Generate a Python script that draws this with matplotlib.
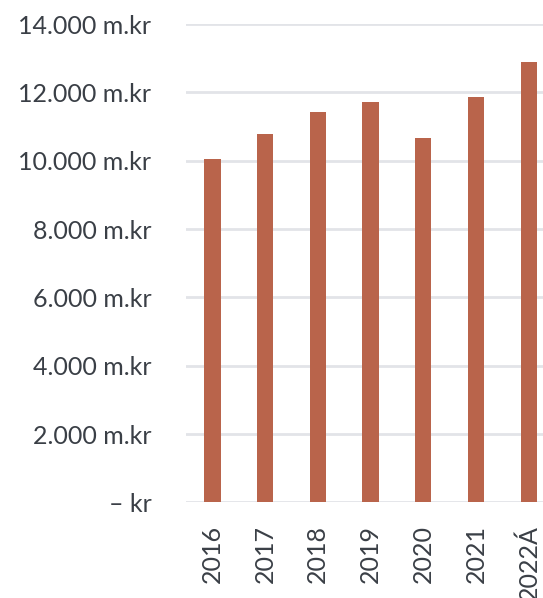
import matplotlib
matplotlib.use('Agg')
import matplotlib.pyplot as plt
from matplotlib.ticker import FuncFormatter

# Data (m.kr)
years = ['2016', '2017', '2018', '2019', '2020', '2021', '2022Á']
values = [10050, 10780, 11430, 11720, 10680, 11870, 12880]
yticks = [0, 2000, 4000, 6000, 8000, 10000, 12000, 14000]

bar_color = '#b9644b'
text_color = '#3a3f46'
grid_color = '#e2e4e8'

plt.rcParams['font.family'] = ['Lato', 'DejaVu Sans']

fig = plt.figure(figsize=(5.43, 5.98), dpi=100)
ax = fig.add_axes([0.3425, 0.1597, 1 - 0.3425, 0.800])

x = list(range(len(years)))
ax.bar(x, values, width=0.31, color=bar_color, zorder=3)

def fmt(v, pos):
    if v == 0:
        return '– kr'
    return f'{int(v):,} m.kr'.replace(',', '.')

ax.set_ylim(0, 14000)
ax.set_yticks(yticks)
ax.yaxis.set_major_formatter(FuncFormatter(fmt))
ax.set_xlim(-0.5, 6.27)
ax.set_xticks(x)
ax.set_xticklabels(years, rotation=90)

ax.grid(axis='y', color=grid_color, linewidth=2, zorder=0)
for s in ax.spines.values():
    s.set_visible(False)
ax.tick_params(axis='both', length=0, labelsize=18, labelcolor=text_color)
ax.tick_params(axis='y', pad=25)
ax.tick_params(axis='x', pad=16)

fig.savefig('out.png', dpi=100)
